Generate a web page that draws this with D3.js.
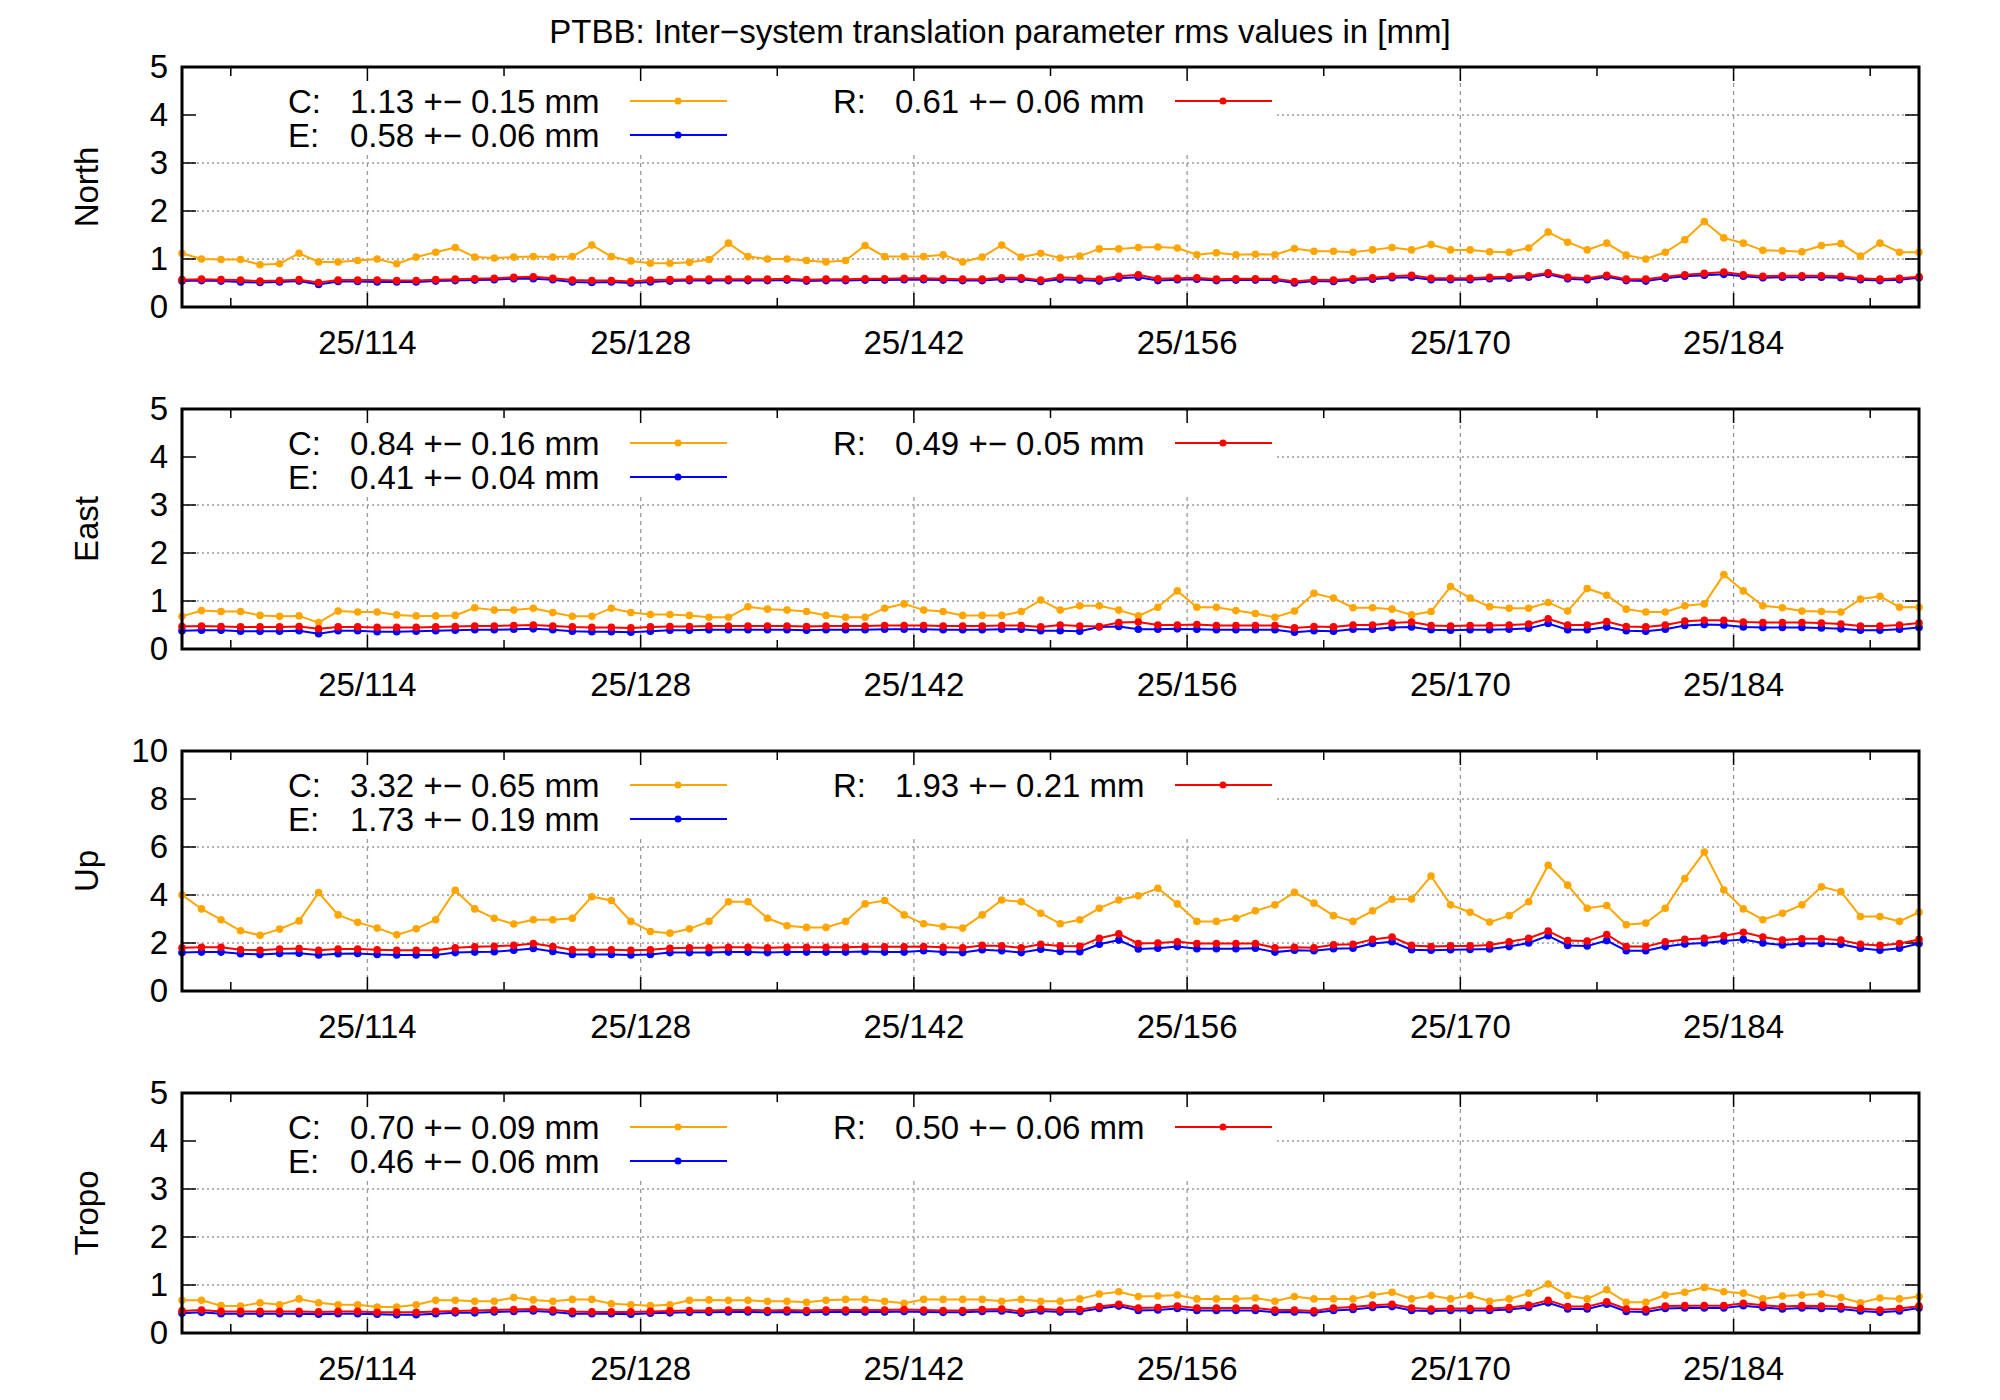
<!DOCTYPE html>
<html>
<head>
<meta charset="utf-8">
<script src="https://cdn.jsdelivr.net/npm/d3@7"></script>
<style>
  body { margin: 0; background: #fff; }
  text { font-family: "Liberation Sans", Arial, sans-serif; fill: #000; }
</style>
</head>
<body>
<div id="d3"></div>
<script>
// day of year 2025, one point per day (noon)
var days = d3.range(90).map(function (i) { return 104.5 + i; });
var tickDays = d3.range(107, 193, 7);
var labelDays = [114, 128, 142, 156, 170, 184];

var panelNames = ["North", "East", "Up", "Tropo"];
var panelMax = [5, 5, 10, 5];
var panelTicks = [[0,1,2,3,4,5], [0,1,2,3,4,5], [0,2,4,6,8,10], [0,1,2,3,4,5]];

var legC = ["1.13 +\u2212 0.15 mm", "0.84 +\u2212 0.16 mm", "3.32 +\u2212 0.65 mm", "0.70 +\u2212 0.09 mm"];
var legE = ["0.58 +\u2212 0.06 mm", "0.41 +\u2212 0.04 mm", "1.73 +\u2212 0.19 mm", "0.46 +\u2212 0.06 mm"];
var legR = ["0.61 +\u2212 0.06 mm", "0.49 +\u2212 0.05 mm", "1.93 +\u2212 0.21 mm", "0.50 +\u2212 0.06 mm"];

var northC = [1.12,1.00,0.99,0.99,0.88,0.90,1.12,0.94,0.94,0.97,
  1.00,0.90,1.04,1.14,1.24,1.04,1.02,1.04,1.05,1.04,
  1.05,1.29,1.05,0.96,0.91,0.91,0.93,0.99,1.33,1.05,
  1.00,1.00,0.97,0.94,0.97,1.28,1.05,1.05,1.05,1.09,
  0.94,1.04,1.29,1.04,1.12,1.02,1.06,1.21,1.21,1.24,
  1.25,1.23,1.09,1.13,1.09,1.10,1.09,1.22,1.16,1.16,
  1.14,1.19,1.24,1.19,1.30,1.19,1.19,1.15,1.14,1.23,
  1.56,1.35,1.19,1.33,1.08,1.00,1.14,1.40,1.78,1.44,
  1.33,1.18,1.17,1.15,1.28,1.32,1.06,1.33,1.14,1.14];
var northE = [0.54,0.55,0.54,0.52,0.51,0.52,0.54,0.47,0.53,0.53,
  0.52,0.52,0.52,0.54,0.55,0.56,0.57,0.59,0.59,0.57,
  0.52,0.51,0.52,0.50,0.52,0.54,0.55,0.55,0.55,0.55,
  0.55,0.56,0.54,0.55,0.55,0.56,0.56,0.57,0.57,0.56,
  0.55,0.55,0.58,0.58,0.53,0.58,0.56,0.54,0.60,0.62,
  0.55,0.57,0.58,0.55,0.56,0.56,0.56,0.50,0.54,0.53,
  0.56,0.58,0.61,0.62,0.57,0.57,0.57,0.59,0.60,0.62,
  0.68,0.59,0.57,0.63,0.55,0.54,0.60,0.64,0.66,0.68,
  0.64,0.61,0.62,0.62,0.62,0.61,0.57,0.55,0.57,0.61];
var northR = [0.57,0.58,0.57,0.56,0.54,0.55,0.57,0.51,0.56,0.56,
  0.56,0.55,0.55,0.57,0.58,0.59,0.60,0.62,0.63,0.60,
  0.56,0.55,0.55,0.53,0.56,0.57,0.58,0.58,0.58,0.58,
  0.58,0.59,0.57,0.58,0.58,0.59,0.59,0.60,0.60,0.59,
  0.58,0.58,0.61,0.61,0.56,0.62,0.60,0.58,0.64,0.67,
  0.59,0.60,0.61,0.58,0.59,0.59,0.59,0.53,0.57,0.56,
  0.59,0.61,0.64,0.66,0.60,0.60,0.60,0.62,0.63,0.65,
  0.71,0.62,0.60,0.66,0.58,0.58,0.63,0.67,0.70,0.73,
  0.67,0.64,0.65,0.65,0.65,0.64,0.60,0.58,0.60,0.63];

var eastC = [0.68,0.80,0.78,0.78,0.70,0.68,0.69,0.55,0.79,0.77,
  0.77,0.71,0.69,0.69,0.70,0.86,0.81,0.81,0.85,0.76,
  0.68,0.68,0.85,0.76,0.72,0.72,0.70,0.66,0.66,0.88,
  0.83,0.81,0.78,0.70,0.66,0.66,0.85,0.94,0.81,0.78,
  0.70,0.70,0.70,0.78,1.02,0.81,0.90,0.90,0.81,0.69,
  0.87,1.21,0.87,0.87,0.80,0.74,0.66,0.79,1.16,1.06,
  0.86,0.86,0.83,0.71,0.78,1.30,1.06,0.88,0.85,0.85,
  0.97,0.79,1.26,1.12,0.83,0.77,0.77,0.90,0.94,1.55,
  1.21,0.90,0.86,0.79,0.78,0.77,1.04,1.10,0.87,0.87];
var eastE = [0.38,0.39,0.39,0.37,0.37,0.37,0.38,0.32,0.38,0.38,
  0.36,0.36,0.37,0.38,0.39,0.40,0.40,0.41,0.42,0.40,
  0.37,0.36,0.36,0.35,0.37,0.39,0.39,0.40,0.40,0.40,
  0.40,0.40,0.39,0.40,0.40,0.40,0.41,0.41,0.41,0.40,
  0.40,0.40,0.41,0.41,0.38,0.38,0.37,0.46,0.47,0.41,
  0.41,0.42,0.41,0.40,0.40,0.40,0.40,0.35,0.38,0.37,
  0.41,0.41,0.45,0.46,0.40,0.39,0.40,0.40,0.41,0.43,
  0.53,0.40,0.40,0.46,0.38,0.37,0.41,0.49,0.51,0.50,
  0.46,0.45,0.45,0.45,0.44,0.42,0.39,0.39,0.41,0.45];
var eastR = [0.47,0.48,0.47,0.46,0.46,0.46,0.47,0.42,0.46,0.46,
  0.45,0.45,0.45,0.46,0.47,0.48,0.48,0.49,0.50,0.48,
  0.46,0.45,0.45,0.44,0.46,0.47,0.47,0.48,0.48,0.48,
  0.48,0.48,0.47,0.48,0.48,0.48,0.49,0.49,0.49,0.48,
  0.48,0.48,0.49,0.49,0.46,0.50,0.48,0.47,0.55,0.56,
  0.50,0.50,0.51,0.49,0.49,0.49,0.49,0.44,0.47,0.46,
  0.50,0.50,0.54,0.56,0.49,0.48,0.49,0.49,0.50,0.52,
  0.63,0.50,0.50,0.57,0.47,0.46,0.50,0.58,0.60,0.60,
  0.56,0.55,0.55,0.55,0.54,0.52,0.48,0.48,0.50,0.54];

var upC = [4.00,3.42,2.97,2.51,2.32,2.58,2.92,4.10,3.17,2.86,
  2.62,2.34,2.59,2.97,4.20,3.42,3.03,2.79,2.97,2.97,
  3.03,3.93,3.77,2.90,2.48,2.41,2.59,2.90,3.72,3.72,
  3.03,2.72,2.65,2.65,2.90,3.63,3.77,3.17,2.80,2.69,
  2.62,3.17,3.79,3.72,3.24,2.80,2.97,3.45,3.79,3.97,
  4.28,3.63,2.90,2.90,3.03,3.34,3.59,4.11,3.66,3.14,
  2.90,3.34,3.82,3.83,4.79,3.59,3.28,2.87,3.14,3.72,
  5.24,4.41,3.45,3.56,2.76,2.83,3.45,4.69,5.79,4.21,
  3.42,2.97,3.24,3.59,4.34,4.14,3.10,3.10,2.90,3.28];
var upE = [1.60,1.62,1.62,1.55,1.52,1.56,1.57,1.50,1.55,1.56,
  1.52,1.50,1.50,1.50,1.60,1.62,1.64,1.70,1.77,1.65,
  1.52,1.52,1.52,1.50,1.52,1.60,1.60,1.60,1.62,1.62,
  1.60,1.62,1.62,1.62,1.62,1.65,1.62,1.62,1.68,1.62,
  1.60,1.72,1.68,1.60,1.74,1.65,1.64,1.95,2.12,1.75,
  1.78,1.85,1.76,1.76,1.76,1.78,1.62,1.70,1.68,1.76,
  1.78,1.98,2.05,1.72,1.70,1.72,1.73,1.75,1.85,2.00,
  2.30,1.90,1.88,2.10,1.68,1.68,1.85,1.96,2.00,2.08,
  2.15,2.00,1.92,1.98,1.98,1.95,1.78,1.70,1.78,1.98];
var upR = [1.80,1.82,1.82,1.72,1.70,1.75,1.77,1.70,1.75,1.75,
  1.72,1.70,1.70,1.70,1.80,1.84,1.86,1.90,1.98,1.85,
  1.72,1.72,1.72,1.70,1.72,1.78,1.80,1.80,1.82,1.82,
  1.80,1.82,1.82,1.82,1.82,1.84,1.84,1.84,1.85,1.82,
  1.80,1.90,1.88,1.80,1.95,1.88,1.86,2.20,2.38,1.98,
  2.00,2.05,1.98,1.98,1.98,1.98,1.80,1.82,1.80,1.93,
  1.95,2.15,2.25,1.90,1.85,1.88,1.88,1.92,2.05,2.20,
  2.50,2.10,2.08,2.35,1.85,1.85,2.05,2.15,2.20,2.30,
  2.45,2.25,2.12,2.18,2.18,2.12,1.95,1.90,1.98,2.15];

var tropoC = [0.68,0.68,0.57,0.56,0.63,0.59,0.71,0.63,0.59,0.59,
  0.54,0.54,0.59,0.68,0.68,0.66,0.66,0.74,0.69,0.66,
  0.70,0.70,0.61,0.59,0.57,0.59,0.68,0.69,0.68,0.68,
  0.66,0.66,0.64,0.68,0.70,0.70,0.66,0.62,0.70,0.70,
  0.70,0.70,0.66,0.70,0.66,0.66,0.71,0.81,0.86,0.76,
  0.77,0.79,0.71,0.71,0.71,0.73,0.66,0.76,0.71,0.71,
  0.71,0.79,0.85,0.71,0.78,0.71,0.78,0.66,0.71,0.83,
  1.02,0.78,0.71,0.90,0.64,0.64,0.79,0.85,0.95,0.86,
  0.83,0.71,0.77,0.79,0.81,0.74,0.63,0.73,0.71,0.76];
var tropoE = [0.41,0.43,0.40,0.40,0.40,0.40,0.40,0.39,0.40,0.40,
  0.39,0.38,0.38,0.40,0.42,0.42,0.44,0.45,0.46,0.44,
  0.40,0.40,0.40,0.39,0.41,0.42,0.43,0.43,0.44,0.44,
  0.43,0.44,0.43,0.44,0.44,0.44,0.44,0.45,0.44,0.43,
  0.43,0.45,0.46,0.41,0.46,0.44,0.45,0.51,0.56,0.47,
  0.48,0.51,0.47,0.47,0.47,0.47,0.43,0.44,0.42,0.47,
  0.49,0.53,0.55,0.47,0.46,0.47,0.47,0.47,0.49,0.53,
  0.63,0.50,0.50,0.60,0.45,0.44,0.51,0.52,0.52,0.52,
  0.57,0.53,0.50,0.52,0.51,0.50,0.46,0.43,0.46,0.52];
var tropoR = [0.46,0.48,0.45,0.45,0.45,0.45,0.45,0.44,0.45,0.45,
  0.43,0.43,0.43,0.45,0.46,0.47,0.48,0.49,0.50,0.48,
  0.45,0.44,0.44,0.44,0.45,0.46,0.47,0.47,0.48,0.48,
  0.47,0.48,0.47,0.48,0.48,0.48,0.48,0.49,0.48,0.47,
  0.47,0.49,0.50,0.45,0.50,0.48,0.49,0.55,0.60,0.52,
  0.53,0.56,0.52,0.52,0.52,0.52,0.48,0.48,0.46,0.52,
  0.54,0.58,0.60,0.52,0.50,0.51,0.51,0.51,0.53,0.58,
  0.68,0.55,0.55,0.65,0.50,0.49,0.56,0.57,0.57,0.57,
  0.62,0.58,0.55,0.57,0.56,0.55,0.51,0.48,0.51,0.56];

var seriesC = [northC, eastC, upC, tropoC];
var seriesE = [northE, eastE, upE, tropoE];
var seriesR = [northR, eastR, upR, tropoR];

var W = 2000, H = 1400;
var left = 182, right = 1919;
var panelTop0 = 67, panelStep = 342, panelH = 240;
var orange = "#ffa500", blue = "#0000ff", red = "#ff0000";
var fs = "33px";

var svg = d3.select("#d3").append("svg")
    .attr("width", W).attr("height", H);

svg.append("text")
    .attr("x", 1000).attr("y", 43)
    .attr("text-anchor", "middle")
    .attr("font-size", fs)
    .text("PTBB: Inter\u2212system translation parameter rms values in [mm]");

var x = d3.scaleLinear().domain([104.5, 193.5]).range([left, right]);

panelNames.forEach(function (name, p) {
    var top = panelTop0 + p * panelStep, bottom = top + panelH;
    var y = d3.scaleLinear().domain([0, panelMax[p]]).range([bottom, top]);
    var g = svg.append("g");

    // grid
    g.selectAll(".hg").data(panelTicks[p].slice(1, -1)).enter()
        .append("line")
        .attr("x1", left).attr("x2", right)
        .attr("y1", function (d) { return y(d); })
        .attr("y2", function (d) { return y(d); })
        .attr("stroke", "#999").attr("stroke-width", 1.3)
        .attr("stroke-dasharray", "2,3");
    g.selectAll(".vg").data(labelDays).enter()
        .append("line")
        .attr("x1", function (d) { return x(d); })
        .attr("x2", function (d) { return x(d); })
        .attr("y1", top).attr("y2", bottom)
        .attr("stroke", "#999").attr("stroke-width", 1.3)
        .attr("stroke-dasharray", "4,4");

    // key box hides the grid
    g.append("rect")
        .attr("x", left + 2).attr("y", top + 2)
        .attr("width", 1275 - left).attr("height", 86)
        .attr("fill", "#fff");

    // tick marks, mirrored
    tickDays.forEach(function (d) {
        var len = labelDays.indexOf(d) >= 0 ? 14 : 9;
        [[bottom, bottom - len], [top, top + len]].forEach(function (s) {
            g.append("line").attr("x1", x(d)).attr("x2", x(d))
                .attr("y1", s[0]).attr("y2", s[1])
                .attr("stroke", "#000").attr("stroke-width", 1.5);
        });
    });
    panelTicks[p].forEach(function (v) {
        g.append("line").attr("x1", left).attr("x2", left + 14)
            .attr("y1", y(v)).attr("y2", y(v)).attr("stroke", "#000").attr("stroke-width", 1.5);
        g.append("line").attr("x1", right).attr("x2", right - 14)
            .attr("y1", y(v)).attr("y2", y(v)).attr("stroke", "#000").attr("stroke-width", 1.5);
        g.append("text")
            .attr("x", left - 14).attr("y", y(v) + 11)
            .attr("text-anchor", "end").attr("font-size", fs)
            .text(v);
    });
    labelDays.forEach(function (d) {
        g.append("text")
            .attr("x", x(d)).attr("y", bottom + 47)
            .attr("text-anchor", "middle").attr("font-size", fs)
            .text("25/" + d);
    });

    g.append("text")
        .attr("transform", "translate(98," + (top + panelH / 2) + ") rotate(-90)")
        .attr("text-anchor", "middle").attr("font-size", fs)
        .text(name);

    // key
    var keys = [
        {lab: "C:", txt: legC[p], col: orange, kx: 288, ky: top + 34, lx: 630},
        {lab: "E:", txt: legE[p], col: blue, kx: 288, ky: top + 68, lx: 630},
        {lab: "R:", txt: legR[p], col: red, kx: 833, ky: top + 34, lx: 1175}
    ];
    keys.forEach(function (k) {
        g.append("text").attr("x", k.kx).attr("y", k.ky + 12)
            .attr("font-size", fs).text(k.lab);
        g.append("text").attr("x", k.kx + 62).attr("y", k.ky + 12)
            .attr("font-size", fs).text(k.txt);
        g.append("line").attr("x1", k.lx).attr("x2", k.lx + 97)
            .attr("y1", k.ky).attr("y2", k.ky)
            .attr("stroke", k.col).attr("stroke-width", 2);
        g.append("circle").attr("cx", k.lx + 48).attr("cy", k.ky).attr("r", 3.5)
            .attr("fill", k.col);
    });

    // series
    var line = d3.line()
        .x(function (d, i) { return x(days[i]); })
        .y(function (d) { return y(d); });
    [[seriesC[p], orange], [seriesE[p], blue], [seriesR[p], red]].forEach(function (s) {
        g.append("path").datum(s[0])
            .attr("d", line).attr("fill", "none")
            .attr("stroke", s[1]).attr("stroke-width", 2);
        g.selectAll(null).data(s[0]).enter()
            .append("circle")
            .attr("cx", function (d, i) { return x(days[i]); })
            .attr("cy", function (d) { return y(d); })
            .attr("r", 3.8)
            .attr("fill", s[1]);
    });

    // frame
    g.append("rect")
        .attr("x", left).attr("y", top)
        .attr("width", right - left).attr("height", panelH)
        .attr("fill", "none").attr("stroke", "#000").attr("stroke-width", 3);
});
</script>
</body>
</html>
